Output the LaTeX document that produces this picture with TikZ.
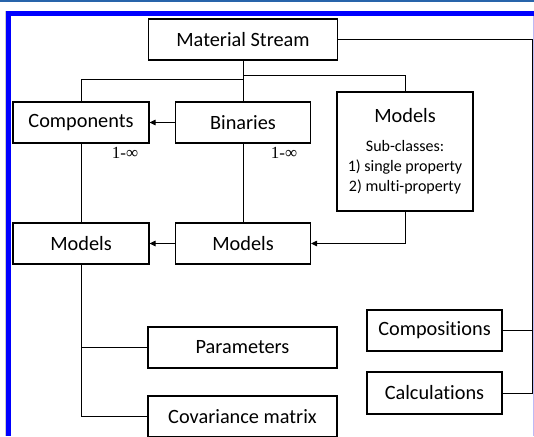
\documentclass[tikz,border=0pt]{standalone}
\usepackage{fontspec}
\setmainfont{Carlito}[Ligatures=NoCommon]
\newfontfamily\numfont{Liberation Serif}
\usetikzlibrary{arrows.meta}
\definecolor{band}{RGB}{40,100,170}
\definecolor{lav}{RGB}{190,185,245}
\begin{document}
\begin{tikzpicture}[x=1pt,y=-1pt,
    box/.style={draw,line width=1.1pt,inner sep=0pt,minimum height=41pt,font=\fontsize{20.3}{22}\selectfont},
    link/.style={line width=1pt},
    arr/.style={link,-{Triangle[length=6pt,width=5.5pt]}},
    mult/.style={font=\numfont\fontsize{17}{18}\selectfont}]
    \useasboundingbox(0,0) rectangle (534,436);
    \fill[white](0,0) rectangle (534,436);
    \fill[band](0,0) rectangle (534,2.5);
    \fill[blue](6,11) rectangle (534,16);
    \fill[blue](6,11) rectangle (11,436);
    \draw[lav,line width=1pt](533.5,16)--(533.5,436);
    \draw[gray!40,line width=.6pt](5.5,11)--(5.5,436);

    \node[box,minimum width=189pt](ms)at(243,39.5){Material Stream};
    \node[box,minimum width=136pt](comp)at(81,122.5){Components};
    \node[box,minimum width=135pt](bin)at(243,122.5){Binaries};
    \node[box,minimum width=136pt,minimum height=119pt,align=center,font=\fontsize{16}{20}\selectfont](mdl)at(405,151.5)
      {{\fontsize{20.3}{20}\selectfont Models}\\[9pt]Sub-classes:\\1) single property\\2) multi-property};
    \node[box,minimum width=136pt](mleft)at(81,243.5){Models};
    \node[box,minimum width=135pt](mmid)at(243,243.5){Models};
    \node[box,minimum width=189pt](par)at(242.5,347.5){Parameters};
    \node[box,minimum width=189pt](cov)at(242.5,416.5){Covariance matrix};
    \node[box,minimum width=135pt](cmp)at(434.5,330.5){Compositions};
    \node[box,minimum width=135pt,minimum height=42pt](calc)at(434.5,393){Calculations};
    \node[mult](lc)at(125,153){1-∞};
    \node[mult](lb)at(284,153){1-∞};
    \coordinate(bus)at(532,0);

    \draw[link](ms.south)--++(0,19)-|(comp.north);
    \draw[link](ms.south)--++(0,15)-|(mdl.north);
    \draw[link](ms.south)--(bin.north);
    \draw[arr](bin.west)--(comp.east);
    \draw[link](comp.south)--(mleft.north);
    \draw[link](bin.south)--(mmid.north);
    \draw[arr](mmid.west)--(mleft.east);
    \draw[arr](mdl.south)|-(mmid.east);
    \draw[link](mleft.south)|-(par.west);
    \draw[link](mleft.south)|-(cov.west);
    \draw[link](ms.east)-|(calc.east-|bus)--(calc.east);
    \draw[link](cmp.east)--(cmp.east-|bus);
  \end{tikzpicture}
\end{document}
